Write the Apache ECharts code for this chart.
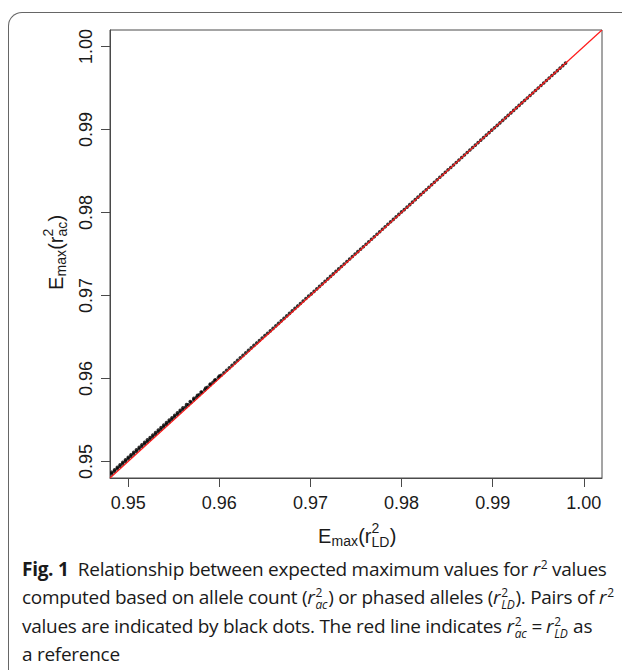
<!DOCTYPE html>
<html>
<head>
<meta charset="utf-8">
<script src="https://cdn.jsdelivr.net/npm/echarts@6/dist/echarts.min.js"></script>
<style>
  html, body { margin: 0; padding: 0; background: #fff; width: 622px; height: 670px; overflow: hidden; }
  #frame { position: absolute; left: 8px; top: 12px; width: 800px; height: 800px;
           border-left: 1.5px solid #666; border-top: 1.5px solid #666; border-top-left-radius: 14px; }
  #chart { position: absolute; left: 0; top: 0; width: 622px; height: 670px; }
  #caption { position: absolute; left: 22px; top: 555px; font-family: "Open Sans", "Noto Sans", sans-serif;
             font-size: 19px; line-height: 28.3px; color: #1a1a1a; letter-spacing: -0.28px; white-space: nowrap; }
  #caption .ln { display: block; }
  .ss { display: inline-block; vertical-align: -5px; font-size: 12px; line-height: 12px; margin-left: 1px; margin-right: 1px; }
  .ss > span, .ss > i { display: block; }
  .sup2 { font-size: 12px; vertical-align: 7px; line-height: 0; margin-left: 1px; }
  .eq { margin: 0 4px; }
  b { font-weight: 700; }
</style>
</head>
<body>
<div id="frame"></div>
<div id="chart"></div>
<div id="caption">
  <span class="ln"><b>Fig. 1</b>&nbsp; Relationship between expected maximum values for <i>r</i><span class="sup2">2</span> values</span>
  <span class="ln">computed based on allele count (<i>r</i><span class="ss"><span>2</span><i>ac</i></span>) or phased alleles (<i>r</i><span class="ss"><span>2</span><i>LD</i></span>). Pairs of <i>r</i><span class="sup2">2</span></span>
  <span class="ln">values are indicated by black dots. The red line indicates <i>r</i><span class="ss"><span>2</span><i>ac</i></span><span class="eq">=</span><i>r</i><span class="ss"><span>2</span><i>LD</i></span> as</span>
  <span class="ln">a reference</span>
</div>
<script>
// ---- data ----
const tickValues = [0.95, 0.96, 0.97, 0.98, 0.99, 1.00];
const axisMin = 0.948;
const axisMax = 1.002;

// E_max(r^2_LD) values (x)
const ldValues = [
  0.9482,0.9485,0.9488,0.9491,0.9494,0.9497,0.9500,0.9503,0.9506,0.9509,0.9512,0.9515,0.9518,
  0.9521,0.9524,0.9527,0.9530,0.9533,0.9536,0.9539,0.9542,0.9545,0.9548,0.9551,0.9554,0.9557,0.9560,
  0.9563,0.9566,0.9569,0.9572,0.9575,0.9578,0.9581,0.9584,0.9587,0.9590,0.9593,0.9596,0.9599,
  0.9602,0.9605,0.9608,0.9611,0.9614,0.9617,0.9620,0.9623,0.9626,0.9629,0.9632,0.9635,0.9638,0.9641,0.9644,0.9647,0.9650,
  0.9653,0.9656,0.9659,0.9662,0.9665,0.9668,0.9671,0.9674,0.9677,0.9680,0.9683,0.9686,0.9689,0.9692,0.9695,0.9698,
  0.9701,0.9704,0.9707,0.9710,0.9713,0.9716,0.9719,0.9722,0.9725,0.9728,0.9731,0.9734,0.9737,0.9740,0.9743,0.9746,0.9749,
  0.9752,0.9755,0.9758,0.9761,0.9764,0.9767,0.9770,0.9773,0.9776,0.9779,0.9782,0.9785,0.9788,0.9791,0.9794,0.9797,0.9800,
  0.9803,0.9806,0.9809,0.9812,0.9815,0.9818,0.9821,0.9824,0.9827,0.9830,0.9833,0.9836,0.9839,0.9842,0.9845,0.9848,0.9851,
  0.9854,0.9857,0.9860,0.9863,0.9866,0.9869,0.9872,0.9875,0.9878,0.9881,0.9884,0.9887,0.9890,0.9893,0.9896,0.9899,
  0.9902,0.9905,0.9908,0.9911,0.9914,0.9917,0.9920,0.9923,0.9926,0.9929,0.9932,0.9935,0.9938,0.9941,0.9944,0.9947,0.9950,
  0.9953,0.9956,0.9959,0.9962,0.9965,0.9968,0.9971,0.9974,0.9977,0.9980,
  0.9482,0.9485,0.9488,0.9491,0.9494,0.9497,0.9500,0.9503,0.9506,0.9509,0.9512,0.9515,0.9518,0.9521,
  0.9524,0.9527,0.9530,0.9533,0.9536,0.9539,0.9542,0.9545,0.9548,0.9551,0.9554,0.9557,0.9560,0.9564,
  0.9568,0.9572,0.9576,0.9580,0.9585,0.9590,0.9595,0.9600
];

// E_max(r^2_ac) values (y)
const acValues = [
  0.9485,0.9488,0.9491,0.9494,0.9497,0.9500,0.9503,0.9506,0.9509,0.9512,0.9515,0.9518,0.9521,
  0.95236,0.95266,0.95296,0.95326,0.95356,0.95386,0.95416,0.95446,0.95476,0.95506,0.95536,0.95566,0.95596,0.95626,
  0.95652,0.95682,0.95712,0.95742,0.95772,0.95802,0.95832,0.95862,0.95892,0.95922,0.95952,0.95982,0.96012,
  0.96038,0.96068,0.96098,0.96128,0.96158,0.96188,0.96218,0.96248,0.96278,0.96308,0.96338,0.96368,0.96398,0.96428,0.96458,0.96488,0.96518,
  0.96544,0.96574,0.96604,0.96634,0.96664,0.96694,0.96724,0.96754,0.96784,0.96814,0.96844,0.96874,0.96904,0.96934,0.96964,0.96994,
  0.9702,0.9705,0.9708,0.9711,0.9714,0.9717,0.9720,0.9723,0.9726,0.9729,0.9732,0.9735,0.9738,0.9741,0.9744,0.9747,0.9750,
  0.97528,0.97558,0.97588,0.97618,0.97648,0.97678,0.97708,0.97738,0.97768,0.97798,0.97828,0.97858,0.97888,0.97918,0.97948,0.97978,0.98008,
  0.98035,0.98065,0.98095,0.98125,0.98155,0.98185,0.98215,0.98245,0.98275,0.98305,0.98335,0.98365,0.98395,0.98425,0.98455,0.98485,0.98515,
  0.98543,0.98573,0.98603,0.98633,0.98663,0.98693,0.98723,0.98753,0.98783,0.98813,0.98843,0.98873,0.98903,0.98933,0.98963,0.98993,
  0.99021,0.99051,0.99081,0.99111,0.99141,0.99171,0.99201,0.99231,0.99261,0.99291,0.99321,0.99351,0.99381,0.99411,0.99441,0.99471,0.99501,
  0.99531,0.99561,0.99591,0.99621,0.99651,0.99681,0.99711,0.99741,0.99771,0.99801,
  0.9487,0.9490,0.9493,0.9496,0.9499,0.9502,0.9505,0.9508,0.9511,0.9514,0.9517,0.9520,0.9523,0.9526,
  0.95288,0.95318,0.95348,0.95378,0.95408,0.95438,0.95468,0.95498,0.95526,0.95556,0.95586,0.95616,0.95646,0.95684,
  0.95722,0.95760,0.95798,0.95836,0.95884,0.95932,0.95980,0.96028
];

// reference line r2_ac = r2_LD (drawn across the axis range)
const refLineX = [0.948, 1.002];
const refLineY = [0.948, 1.002];

// ---- chart ----
const points = ldValues.map((x, i) => [x, acValues[i]]);
const refLine = refLineX.map((x, i) => [x, refLineY[i]]);

const axisColor = '#4a4a4a';
const labelFont = '"Liberation Sans", Arial, sans-serif';

function axisCommon() {
  return {
    type: 'value', min: axisMin, max: axisMax,
    axisLine: { show: true, onZero: false, lineStyle: { color: axisColor, width: 1 } },
    axisTick: { show: true, length: 9, customValues: tickValues, lineStyle: { color: axisColor, width: 1 } },
    axisLabel: { customValues: tickValues, formatter: v => v.toFixed(2), fontSize: 18,
                 color: '#1a1a1a', fontFamily: labelFont, hideOverlap: false },
    splitLine: { show: false }
  };
}
const xAxis = axisCommon();
xAxis.axisLabel.margin = 16;
const yAxis = axisCommon();
yAxis.axisLabel.margin = 15;
yAxis.axisLabel.rotate = 90;

const mainStyle = { fontFamily: labelFont, fontSize: 20, fill: '#1a1a1a', verticalAlign: 'middle' };
const subStyle = { fontFamily: labelFont, fontSize: 14, fill: '#1a1a1a', verticalAlign: 'middle' };
function titleChildren(subWidth, subWord) {
  // E_max(r^2_xx)
  return [
    { type: 'text', x: 0, y: 0, style: Object.assign({ text: 'E' }, mainStyle) },
    { type: 'text', x: 13.6, y: 5, style: Object.assign({ text: 'max' }, subStyle) },
    { type: 'text', x: 40.2, y: 0, style: Object.assign({ text: '(r' }, mainStyle) },
    { type: 'text', x: 53.6, y: -8, style: Object.assign({ text: '2' }, subStyle) },
    { type: 'text', x: 53.4, y: 6, style: Object.assign({ text: subWord }, subStyle) },
    { type: 'text', x: 53.6 + subWidth, y: 0, style: Object.assign({ text: ')' }, mainStyle) }
  ];
}

const chart = echarts.init(document.getElementById('chart'), null, { renderer: 'svg' });
chart.setOption({
  animation: false,
  grid: { left: 110, right: 20, top: 30, bottom: 192, show: true, borderColor: axisColor, borderWidth: 1, containLabel: false },
  xAxis: xAxis,
  yAxis: yAxis,
  series: [
    { type: 'scatter', data: points, symbol: 'circle', symbolSize: 3.6,
      itemStyle: { color: '#000' }, z: 2, silent: true },
    { type: 'line', data: refLine, symbol: 'none', lineStyle: { color: '#ff1a1a', width: 1.2 }, z: 3, silent: true }
  ],
  graphic: [
    { type: 'group', x: 318, y: 536, children: titleChildren(18.2, 'LD') },
    { type: 'group', x: 56, y: 290, rotation: Math.PI / 2, children: titleChildren(15, 'ac') }
  ]
});
</script>
</body>
</html>
